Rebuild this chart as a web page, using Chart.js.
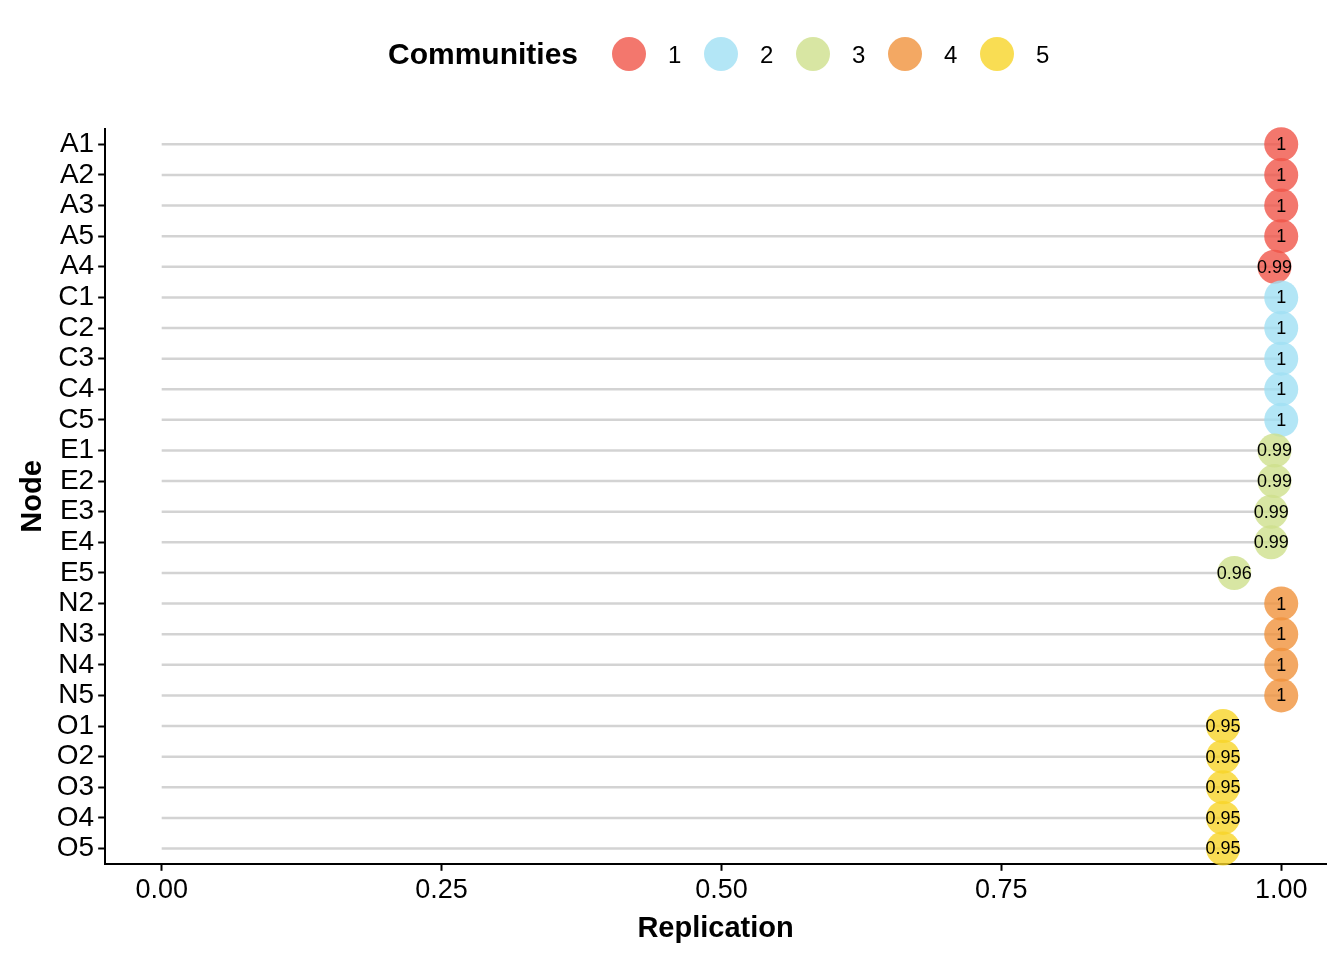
<!DOCTYPE html>
<html><head><meta charset="utf-8">
<script src="https://cdn.jsdelivr.net/npm/chart.js@4"></script>
<style>html,body{margin:0;background:#fff}#wrap{width:1344px;height:960px}</style>
</head><body><div id="wrap"><canvas id="c"></canvas></div>
<script>
// data
const nodes = ['A1','A2','A3','A5','A4','C1','C2','C3','C4','C5','E1','E2','E3','E4','E5','N2','N3','N4','N5','O1','O2','O3','O4','O5'];
const replication = [1,1,1,1,0.994,1,1,1,1,1,0.994,0.994,0.991,0.991,0.958,1,1,1,1,0.948,0.948,0.948,0.948,0.948];
const community = [1,1,1,1,1,2,2,2,2,2,3,3,3,3,3,4,4,4,4,5,5,5,5,5];
const communityLabels = ['1','2','3','4','5'];
const communityColors = ['rgba(240,85,72,0.8)','rgba(160,224,244,0.8)','rgba(206,224,140,0.8)','rgba(240,146,60,0.8)','rgba(248,212,40,0.8)'];

const segPlugin = {
  id: 'seg',
  beforeDatasetsDraw(ch) {
    const x = ch.scales.x, y = ch.scales.y, g = ch.ctx;
    g.save(); g.strokeStyle = '#d3d3d3'; g.lineWidth = 2.5;
    nodes.forEach((n, i) => {
      const py = y.getPixelForValue(i);
      g.beginPath(); g.moveTo(x.getPixelForValue(0), py); g.lineTo(x.getPixelForValue(replication[i]), py); g.stroke();
    });
    g.restore();
  },
  afterDatasetsDraw(ch) {
    const x = ch.scales.x, y = ch.scales.y, g = ch.ctx;
    g.save(); g.fillStyle = '#000'; g.font = '18px Arial, "Liberation Sans"';
    g.textAlign = 'center'; g.textBaseline = 'middle';
    nodes.forEach((n, i) => {
      const v = Math.round(replication[i] * 100) / 100;
      g.fillText(String(v), x.getPixelForValue(replication[i]), y.getPixelForValue(i) + 1);
    });
    // legend
    g.font = 'bold 30px Arial, "Liberation Sans"'; g.textAlign = 'left';
    g.fillText('Communities', 388, 56);
    communityLabels.forEach((l, k) => {
      const cx = 629 + k * 92;
      g.beginPath(); g.arc(cx, 54, 17, 0, Math.PI * 2); g.fillStyle = communityColors[k]; g.fill();
      g.fillStyle = '#000'; g.font = '24px Arial, "Liberation Sans"';
      g.fillText(l, cx + 39, 56);
    });
    g.restore();
  }
};

new Chart(document.getElementById('c'), {
  type: 'scatter',
  data: {
    datasets: [{
      data: nodes.map((n, i) => ({ x: replication[i], y: n })),
      backgroundColor: community.map(c => communityColors[c - 1]),
      borderWidth: 0, pointRadius: 17, pointHoverRadius: 17
    }]
  },
  options: {
    responsive: true, maintainAspectRatio: false, animation: false,
    layout: { padding: { top: 129, right: 18, left: 14, bottom: 14 } },
    plugins: { legend: { display: false }, tooltip: { enabled: false } },
    scales: {
      x: {
        type: 'linear', min: -0.0505, max: 1.04,
        afterBuildTicks: s => { s.ticks = [0, 0.25, 0.5, 0.75, 1].map(v => ({ value: v })); },
        ticks: { color: '#000', font: { size: 27, family: 'Arial, "Liberation Sans"' }, callback: v => v.toFixed(2), padding: 4 },
        grid: { drawOnChartArea: false, color: '#000', tickLength: 7, tickWidth: 2 },
        border: { color: '#000', width: 2 },
        title: { display: true, text: 'Replication', color: '#000', font: { size: 29, weight: 'bold', family: 'Arial, "Liberation Sans"' }, padding: 0 }
      },
      y: {
        type: 'category', labels: nodes, offset: true,
        ticks: { color: '#000', font: { size: 28, family: 'Arial, "Liberation Sans"' }, padding: 4, autoSkip: false },
        grid: { drawOnChartArea: false, color: '#000', tickLength: 7, tickWidth: 2, offset: false },
        border: { color: '#000', width: 2 },
        title: { display: true, text: 'Node', color: '#000', font: { size: 29, weight: 'bold', family: 'Arial, "Liberation Sans"' }, padding: 2 }
      }
    }
  },
  plugins: [segPlugin]
});
</script></body></html>
